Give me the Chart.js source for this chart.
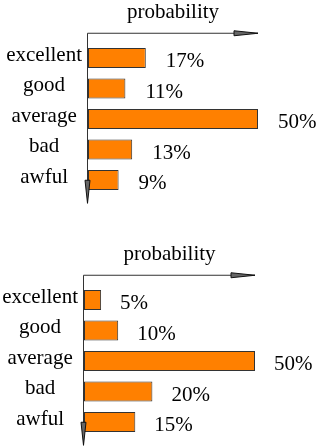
<!DOCTYPE html>
<html>
<head>
<meta charset="utf-8">
<script src="https://cdn.jsdelivr.net/npm/chart.js@4"></script>
<style>
  html, body { margin: 0; padding: 0; background: #fff; }
  canvas { position: absolute; left: 0; }
</style>
</head>
<body>
<canvas id="chart1" width="318" height="204" style="top:0px"></canvas>
<canvas id="chart2" width="318" height="204" style="top:242px"></canvas>
<script>
const categories = ["excellent", "good", "average", "bad", "awful"];
const valuesTop = [17, 11, 50, 13, 9];
const valuesBottom = [5, 10, 50, 20, 15];
const axisTitle = "probability";
const xMax = 50;

const serif = "'Liberation Serif', 'Times New Roman', serif";

// axis lines with xfig style arrowheads
const arrowAxes = {
  id: "arrowAxes",
  afterDraw(chart) {
    const ctx = chart.ctx;
    const a = chart.chartArea;
    const yTop = a.top - 9.5;
    const xLeft = a.left - 0.5;
    const yEnd = a.bottom + 8;
    ctx.save();
    ctx.strokeStyle = "#333";
    ctx.lineWidth = 1;
    ctx.beginPath();
    ctx.moveTo(xLeft, yTop);
    ctx.lineTo(a.right, yTop);
    ctx.moveTo(xLeft, yTop);
    ctx.lineTo(xLeft, yEnd);
    ctx.stroke();

    ctx.fillStyle = "#666";
    ctx.strokeStyle = "#111";
    ctx.beginPath();
    ctx.moveTo(a.right, yTop);
    ctx.lineTo(a.right - 24, yTop - 2.5);
    ctx.lineTo(a.right - 24, yTop + 2.5);
    ctx.closePath();
    ctx.fill();
    ctx.stroke();

    ctx.beginPath();
    ctx.moveTo(xLeft, yEnd);
    ctx.lineTo(xLeft - 2.5, yEnd - 23);
    ctx.lineTo(xLeft + 2.5, yEnd - 23);
    ctx.closePath();
    ctx.fill();
    ctx.stroke();
    ctx.restore();
  }
};

// percentage next to each bar
const valueLabels = {
  id: "valueLabels",
  afterDatasetsDraw(chart, args, opts) {
    const ctx = chart.ctx;
    const meta = chart.getDatasetMeta(0);
    const vals = chart.data.datasets[0].data;
    ctx.save();
    ctx.font = "21px " + serif;
    ctx.fillStyle = "#000";
    ctx.textAlign = "left";
    ctx.textBaseline = "alphabetic";
    meta.data.forEach((bar, i) => {
      ctx.fillText(vals[i] + "%", bar.x + opts.gap, bar.y + 9);
    });
    ctx.restore();
  }
};

function makeChart(id, values, axisWidth, rightPad, gap) {
  return new Chart(id, {
    type: "bar",
    data: {
      labels: categories,
      datasets: [{
        data: values,
        backgroundColor: "#ff8000",
        borderColor: "#333",
        borderWidth: 1,
        borderSkipped: false,
        categoryPercentage: 1,
        barPercentage: 0.66
      }]
    },
    options: {
      indexAxis: "y",
      responsive: false,
      animation: false,
      events: [],
      layout: { padding: { left: 0, right: rightPad, top: 0, bottom: 8.75 } },
      scales: {
        x: { display: false, min: 0, max: xMax },
        y: {
          grid: { display: false, drawTicks: false },
          border: { display: false },
          ticks: {
            crossAlign: "center",
            padding: 6,
            labelOffset: -3,
            color: "#000",
            font: { family: serif, size: 21 }
          },
          afterFit(scale) {
            scale.width = axisWidth;
            scale.paddingTop = 0;
            scale.paddingBottom = 0;
          }
        }
      },
      plugins: {
        legend: { display: false },
        tooltip: { enabled: false },
        title: {
          display: true,
          text: axisTitle,
          fullSize: false,
          color: "#000",
          font: { family: serif, size: 21, weight: "normal", lineHeight: 1 },
          padding: { top: 1.5, bottom: 20.25 }
        },
        valueLabels: { gap: gap }
      }
    },
    plugins: [arrowAxes, valueLabels]
  });
}

makeChart("chart1", valuesTop, 88, 60, 20);
makeChart("chart2", valuesBottom, 84, 63, 19);
</script>
</body>
</html>
